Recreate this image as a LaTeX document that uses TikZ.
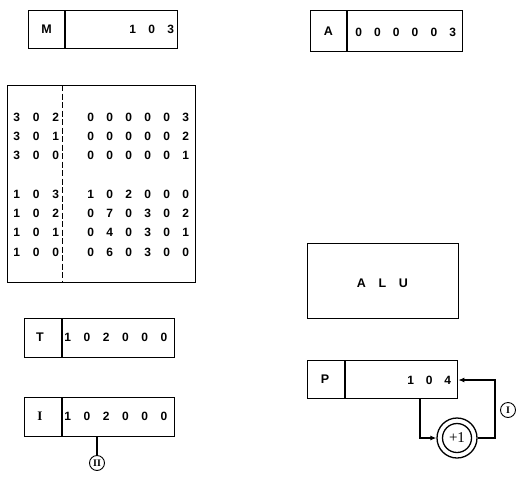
\documentclass[tikz,border=0pt]{standalone}
\usepackage{fontspec}
\setmainfont{Liberation Sans}
\newfontfamily\serifrm{Liberation Serif}
\usetikzlibrary{arrows.meta,calc}
\newlength\dgw
\newcommand\dg[2]{\setlength\dgw{#1}\edef\dgtmp{#2}\expandafter\dgloop\dgtmp\relax}
\def\dgloop#1{\ifx#1\relax\else\makebox[\dgw]{#1}\expandafter\dgloop\fi}
\begin{document}
\begin{tikzpicture}[x=1pt,y=-1pt,line width=1.3pt,
  lab/.style={inner sep=0pt,font=\bfseries\fontsize{12.5}{15}\selectfont},
  txt/.style={inner sep=0pt,font=\bfseries\fontsize{12}{14}\selectfont,anchor=west},
  box/.style={draw,anchor=north west,inner sep=0pt},
  arr/.style={-{Latex[length=6pt,width=5pt]}},
  divd/.style={line width=1pt,dash pattern=on 6pt off 2.5pt},
  roman/.style={draw,circle,inner sep=0pt,minimum size=15pt,line width=0.9pt,font=\serifrm\bfseries\fontsize{10}{10}\selectfont}]
\useasboundingbox (0,0) rectangle (516,482);

% M register
\node[box,minimum width=149pt,minimum height=38pt] (Mbox) at (28,10) {};
\draw (65,10) -- (65,48);
\node[lab] (Mlab) at (46.5,29) {M};
\node[txt] (Mval) at (122.5,29) {\dg{19pt}{103}};

% A register
\node[box,minimum width=152pt,minimum height=41pt] (Abox) at (310,10) {};
\draw (347,10) -- (347,51);
\node[lab] (Alab) at (328.5,31) {A};
\node[txt] (Aval) at (348.6,32) {\dg{18.8pt}{000003}};

% Memory
\node[box,minimum width=188pt,minimum height=197pt] (Mem) at (7,85) {};
\draw[divd] (62,85) -- (62,282);
\foreach \a/\d/\y [count=\k] in {302/000003/117,301/000002/136,300/000001/155,
  103/102000/194,102/070302/213,101/040301/232,100/060300/252}{
  \node[txt] (ad\k) at (6.25,\y) {\dg{19.5pt}{\a}};
  \node[txt] (dt\k) at (80.5,\y) {\dg{19pt}{\d}};
}

% T register
\node[box,minimum width=150pt,minimum height=39pt] (Tbox) at (24,318) {};
\draw (62,318) -- (62,357);
\node[lab] (Tlab) at (40,337.5) {T};
\node[txt] (Tval) at (57.3,337.5) {\dg{19.3pt}{102000}};

% I register
\node[box,minimum width=150pt,minimum height=39pt] (Ibox) at (24,397) {};
\draw (62,397) -- (62,436);
\node[lab,font=\serifrm\bfseries\fontsize{13}{15}\selectfont] (Ilab) at (40,416.5) {I};
\node[txt] (Ival) at (57.3,416.5) {\dg{19.3pt}{102000}};
\node[roman] (c2) at (97,463) {II};
\draw (c2.north |- Ibox.south) -- (c2.north);

% ALU
\node[box,minimum width=151pt,minimum height=75pt] (ALU) at (307,243) {};
\node[lab] (ALUlab) at (382.5,283) {\dg{21pt}{ALU}};

% P register
\node[box,minimum width=150pt,minimum height=38pt] (Pbox) at (307,360) {};
\draw (345,360) -- (345,398);
\node[lab] (Plab) at (325,379) {P};
\node[txt] (Pval) at (400.75,380) {\dg{18.5pt}{104}};

% increment
\node[draw,circle,minimum size=40pt,inner sep=0pt] (inc) at (457,438) {};
\node[draw,circle,minimum size=29pt,inner sep=0pt,font=\serifrm\fontsize{15}{15}\selectfont] (incin) at (457,438) {+1};
\coordinate (pdown) at (420,438);
\coordinate (loop) at (495,380);
\draw[arr] (Pbox.south -| pdown) -- (pdown) -- (inc.west);
\draw[arr] (inc.east) -| (loop) -- (Pbox.east |- loop);
\node[roman] (c1) at (508,410) {I};
\end{tikzpicture}
\end{document}
